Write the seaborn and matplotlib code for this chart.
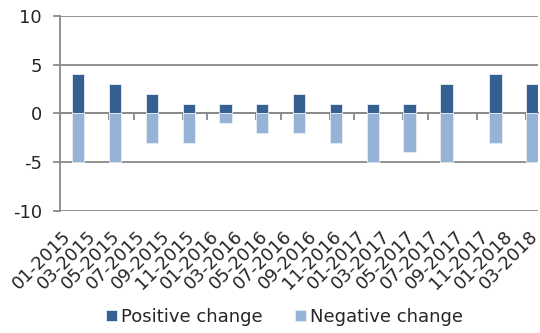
import pandas as pd
import seaborn as sns
import matplotlib.pyplot as plt

# Bar months and values
bar_months = ['2015-02', '2015-05', '2015-08', '2015-11', '2016-02', '2016-05', '2016-08',
              '2016-11', '2017-02', '2017-05', '2017-08', '2017-12', '2018-03']
positive = [4, 3, 2, 1, 1, 1, 2, 1, 1, 1, 3, 4, 3]
negative = [-5, -5, -3, -3, -1, -2, -2, -3, -5, -4, -5, -3, -5]
series_names = ['Positive change', 'Negative change']
colors = {'Positive change': '#376092', 'Negative change': '#95b3d7'}

# monthly date axis, labels every two months
all_months = [str(p) for p in pd.period_range('2015-01', '2018-03', freq='M')]
tick_labels = [p.strftime('%m-%Y') for p in pd.period_range('2015-01', '2018-03', freq='2M')]

df = pd.DataFrame({
    'month': bar_months * 2,
    'value': positive + negative,
    'series': [series_names[0]] * len(positive) + [series_names[1]] * len(negative),
})

sns.set_style('white')
plt.rcParams['font.family'] = ['DejaVu Sans']
plt.rcParams['axes.unicode_minus'] = False
grid_c = '#8a8a8a'
fs = 13

fig = plt.figure(figsize=(5.4, 3.33), dpi=100)
ax = fig.add_axes([0.111, 0.366, 0.886, 0.587])

sns.barplot(data=df, x='month', y='value', hue='series', order=all_months,
            hue_order=series_names, palette=colors, saturation=1, dodge=False, width=1.0,
            edgecolor='#e8eef6', linewidth=0.6, ax=ax, zorder=3)

ax.set_xlim(-0.5, len(all_months) - 0.5)
ax.set_ylim(-10, 10)
ax.set_yticks([-10, -5, 0, 5, 10])
ax.yaxis.grid(True, color=grid_c, linewidth=1.3)
ax.set_axisbelow(True)
ax.tick_params(axis='y', length=5, width=1.3, color=grid_c, labelsize=fs, pad=8, left=True)
ax.set_xlabel('')
ax.set_ylabel('')

for s in ['top', 'right']:
    ax.spines[s].set_visible(False)
ax.spines['left'].set_color(grid_c)
ax.spines['left'].set_linewidth(1.3)
ax.spines['bottom'].set_position(('data', 0))
ax.spines['bottom'].set_color(grid_c)
ax.spines['bottom'].set_linewidth(1.3)

# tick marks on the zero line at two-month boundaries
bounds = [i - 0.5 for i in range(0, len(all_months), 2)]
ax.set_xticks(bounds)
ax.set_xticklabels([''] * len(bounds))
ax.tick_params(axis='x', length=5, width=1.3, color=grid_c, direction='out', bottom=True)

# labels at the bottom of the plot, ending at the middle of each two-month span
sec = ax.secondary_xaxis('bottom')
sec.set_xticks([b + 1 for b in bounds], tick_labels, rotation=45, ha='right', va='baseline',
               rotation_mode='anchor', fontsize=fs)
sec.tick_params(length=0, pad=19)
sec.spines['bottom'].set_visible(False)

handles, labels = ax.get_legend_handles_labels()
ax.get_legend().remove()
fig.legend(handles, labels, loc='center', bbox_to_anchor=(0.527, 0.048), ncol=2,
           frameon=False, fontsize=fs, handlelength=0.6, handleheight=0.6,
           handletextpad=0.25, columnspacing=1.8)

fig.savefig('out.png', dpi=100)
